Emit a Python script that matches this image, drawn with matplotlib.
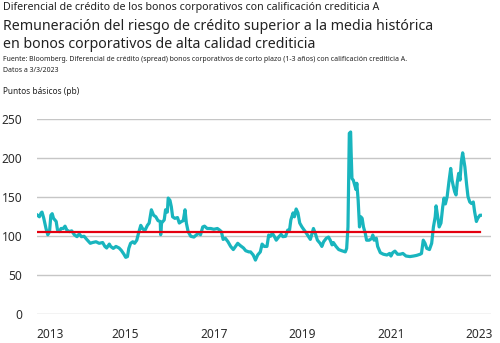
import matplotlib
matplotlib.use("Agg")
import matplotlib.pyplot as plt

# Spread series (decimal year, basis points)
years = [
    2013.02, 2013.06, 2013.10, 2013.12, 2013.16, 2013.21, 2013.25, 2013.29, 2013.32, 2013.35,
    2013.38, 2013.44, 2013.47, 2013.51, 2013.55, 2013.60, 2013.64, 2013.68, 2013.74, 2013.79,
    2013.85, 2013.91, 2013.96, 2014.01, 2014.07, 2014.13, 2014.21, 2014.26, 2014.34, 2014.41,
    2014.49, 2014.54, 2014.58, 2014.64, 2014.67, 2014.73, 2014.79, 2014.86, 2014.91, 2014.97,
    2015.01, 2015.05, 2015.08, 2015.12, 2015.17, 2015.21, 2015.26, 2015.30, 2015.35, 2015.39,
    2015.44, 2015.50, 2015.54, 2015.59, 2015.64, 2015.69, 2015.74, 2015.79, 2015.80, 2015.82,
    2015.88, 2015.91, 2015.95, 2015.97, 2016.01, 2016.04, 2016.07, 2016.12, 2016.18, 2016.22,
    2016.27, 2016.31, 2016.35, 2016.38, 2016.42, 2016.48, 2016.55, 2016.61, 2016.66, 2016.70,
    2016.75, 2016.79, 2016.85, 2016.93, 2017.00, 2017.08, 2017.13, 2017.17, 2017.21, 2017.26,
    2017.32, 2017.38, 2017.44, 2017.49, 2017.54, 2017.60, 2017.67, 2017.72, 2017.79, 2017.83,
    2017.89, 2017.94, 2017.99, 2018.05, 2018.09, 2018.14, 2018.20, 2018.24, 2018.28, 2018.32,
    2018.37, 2018.41, 2018.47, 2018.52, 2018.56, 2018.62, 2018.67, 2018.71, 2018.74, 2018.79,
    2018.82, 2018.86, 2018.90, 2018.94, 2018.99, 2019.04, 2019.09, 2019.14, 2019.18, 2019.22,
    2019.25, 2019.29, 2019.34, 2019.40, 2019.44, 2019.48, 2019.54, 2019.59, 2019.63, 2019.67,
    2019.70, 2019.76, 2019.82, 2019.89, 2019.97, 2020.00, 2020.03, 2020.05, 2020.06, 2020.09,
    2020.10, 2020.12, 2020.15, 2020.18, 2020.21, 2020.23, 2020.26, 2020.29, 2020.32, 2020.35,
    2020.38, 2020.42, 2020.45, 2020.51, 2020.57, 2020.59, 2020.62, 2020.67, 2020.70, 2020.76,
    2020.83, 2020.91, 2020.97, 2021.00, 2021.04, 2021.09, 2021.15, 2021.21, 2021.27, 2021.34,
    2021.43, 2021.51, 2021.58, 2021.66, 2021.69, 2021.73, 2021.77, 2021.81, 2021.87, 2021.92,
    2021.96, 2022.00, 2022.02, 2022.05, 2022.09, 2022.13, 2022.17, 2022.20, 2022.23, 2022.27,
    2022.31, 2022.35, 2022.38, 2022.41, 2022.44, 2022.47, 2022.50, 2022.53, 2022.56, 2022.59,
    2022.62, 2022.67, 2022.71, 2022.74, 2022.78, 2022.82, 2022.86, 2022.89, 2022.93, 2022.96,
    2023.01, 2023.02,
]
spread_bp = [
    127, 125, 130, 131, 123, 110, 102, 106, 127, 129,
    123, 119, 108, 106, 110, 110, 113, 108, 106, 107,
    102, 99.5, 103, 99.5, 100, 96, 91, 92, 93, 91,
    92, 87, 85, 90, 87, 84.5, 87, 85, 82, 77,
    73, 74, 84.5, 91, 93, 91, 95, 104, 114, 110,
    107, 114, 117, 134, 127, 125, 120, 119, 102, 117,
    121, 134, 131, 149, 146, 138, 125, 123, 124, 117,
    119, 120, 134, 117, 106, 100, 99, 102, 104, 102,
    112, 113, 110, 110, 109, 110, 108, 106, 96, 97.5,
    93, 87, 83, 87, 91, 88, 85, 81.5, 80, 80,
    76, 69.5, 76, 80, 90, 87, 87, 101.6, 100, 104,
    99.5, 95, 99.5, 102.5, 99.5, 100, 108, 108, 121, 130,
    125, 135, 130, 117, 112, 108, 104, 99.5, 96, 104,
    110, 104, 95, 91, 87, 93, 97.5, 99, 95, 89,
    92, 87, 83, 81.5, 80, 84.5, 112, 189, 232, 233.7,
    210, 174, 172, 166, 160, 168, 146, 112, 125, 123,
    112, 104, 95, 95, 97.5, 101.6, 95, 97.5, 87, 79,
    77, 76, 78, 74.7, 79, 81, 77, 77, 78, 74.7,
    74, 74.7, 75.5, 77, 78, 95, 91, 84.5, 83, 91,
    112, 125, 139, 127, 112, 117, 138, 149, 141.5, 151,
    170, 187, 172, 164, 157, 153, 170, 180.7, 172, 195.6,
    207, 189, 166, 151, 144, 142, 144, 131.5, 119, 123,
    127, 127,
]
historical_mean_bp = 105

tick_years = [2013, 2015, 2017, 2019, 2021, 2023]
tick_labels = ["2013", "2015", "2017", "2019", "2021", "2023"]
y_ticks = [0, 50, 100, 150, 200, 250]

plt.rcParams["font.family"] = ["Noto Sans", "DejaVu Sans"]

fig = plt.figure(figsize=(5.0, 3.43), dpi=100)
fig.patch.set_facecolor("white")

ax = fig.add_axes([0.0734, 0.0837, 0.9086, 0.5685])
ax.plot(years, spread_bp, color="#19b5be", lw=2.3, solid_joinstyle="round", zorder=3)
ax.plot([years[0], years[-1]], [historical_mean_bp, historical_mean_bp],
        color="#e4000f", lw=1.6, zorder=4)

ax.set_xlim(2013.0, 2023.26)
ax.set_ylim(0, 250)
ax.set_yticks(y_ticks)
ax.set_yticklabels([str(v) for v in y_ticks])
ax.set_xticks(tick_years)
ax.set_xticklabels(tick_labels)
for lbl in ax.get_xticklabels():
    if lbl.get_text() == "2013":
        lbl.set_horizontalalignment("left")

ax.grid(axis="y", color="#c6c6c6", lw=1.0)
ax.grid(axis="x", visible=False)
ax.set_axisbelow(True)
for s in ax.spines.values():
    s.set_visible(False)
ax.tick_params(axis="both", length=0, labelsize=8.6, colors="#2b2b2b")
ax.tick_params(axis="y", pad=10.5)
ax.tick_params(axis="x", pad=10)
for lbl in ax.get_xticklabels() + ax.get_yticklabels():
    lbl.set_fontweight("medium")

fig.text(0.006, 0.994, "Diferencial de crédito de los bonos corporativos con calificación crediticia A",
         fontsize=7.7, color="#222222", va="top", ha="left")
fig.text(0.006, 0.946, "Remuneración del riesgo de crédito superior a la media histórica",
         fontsize=10.2, color="#222222", va="top", ha="left")
fig.text(0.006, 0.893, "en bonos corporativos de alta calidad crediticia",
         fontsize=10.2, color="#222222", va="top", ha="left")
fig.text(0.006, 0.836,
         "Fuente: Bloomberg. Diferencial de crédito (spread) bonos corporativos de corto plazo (1-3 años) con calificación crediticia A.",
         fontsize=5.0, color="#222222", va="top", ha="left")
fig.text(0.006, 0.806, "Datos a 3/3/2023",
         fontsize=5.0, color="#222222", va="top", ha="left")
fig.text(0.006, 0.746, "Puntos básicos (pb)",
         fontsize=6.0, color="#222222", va="top", ha="left", fontweight="bold")

fig.savefig("out.png", dpi=100)
